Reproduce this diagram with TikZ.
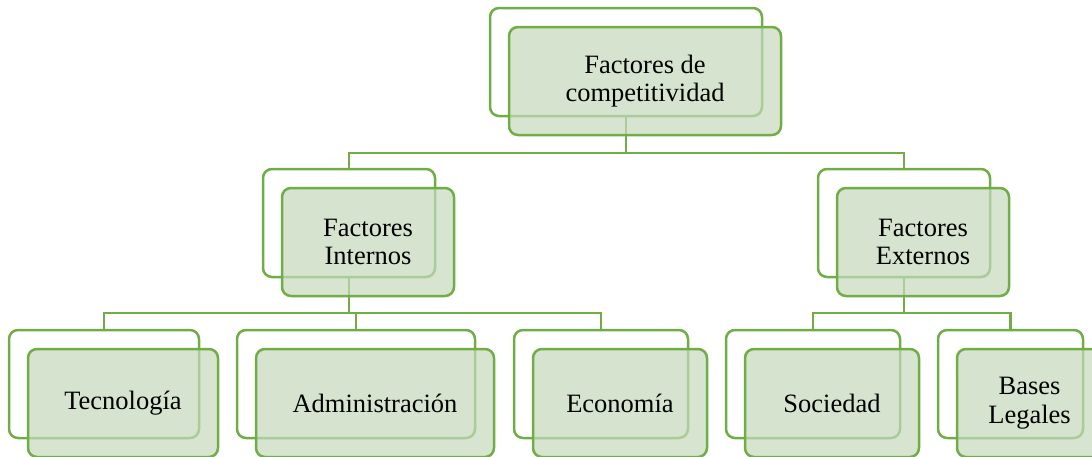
\documentclass[tikz,border=0pt]{standalone}
\usepackage{fontspec}
\setmainfont{LiberationSerif}[Extension=.ttf,UprightFont=*-Regular,BoldFont=*-Bold]
\definecolor{verde}{RGB}{112,173,71}
\definecolor{verdeclaro}{RGB}{197,217,188}
\tikzset{
  caja/.style={draw=verde,line width=2.5pt,rounded corners=9pt,outer sep=0pt,
    anchor=north west,minimum height=108pt,inner sep=0pt},
  cajaatras/.style={caja,fill=white},
  cajafrente/.style={caja,fill=verdeclaro,fill opacity=.7,text opacity=1,
    align=center,font=\rmfamily\fontsize{26.5}{28.5}\selectfont},
  conn/.style={draw=verde,line width=2.5pt}
}
% nombre/x/y/ancho/texto
\def\cajas{top/490/8/272/{Factores de\\competitividad},
  int/263/169/172/{Factores\\Internos},
  ext/818/169/172/{Factores\\Externos},
  tec/9/330/190/{Tecnología},
  adm/237/330/238/{Administración},
  eco/514/330/174/{Economía},
  soc/726/330/174/{Sociedad},
  bas/938/330/145/{Bases\\Legales}}
\begin{document}
\begin{tikzpicture}[x=1pt,y=-1pt]
    \useasboundingbox (0,0) rectangle (1092,456);
    \clip (0,0) rectangle (1092,456);
    \foreach \nm/\xx/\yy/\ww/\txt in \cajas {
        \node[cajaatras,minimum width=\ww pt] (\nm-b) at (\xx,\yy) {};
    }
    \coordinate (bus1) at (0,153);
    \coordinate (bus2) at (0,313);
    \draw[conn] (top-b.south) -- (top-b.south |- bus1);
    \draw[conn] (int-b.north) |- (ext-b.north |- bus1) -- (ext-b.north);
    \draw[conn] (int-b.south) -- (int-b.south |- bus2);
    \draw[conn] (tec-b.north) |- (eco-b.north |- bus2) -- (eco-b.north);
    \draw[conn] (adm-b.north) -- (adm-b.north |- bus2);
    \draw[conn] (ext-b.south) -- (ext-b.south |- bus2);
    \draw[conn] (soc-b.north) |- (bas-b.north |- bus2) -- (bas-b.north);
    \foreach \nm/\xx/\yy/\ww/\txt in \cajas {
        \node[cajafrente,minimum width=\ww pt] (\nm) at (\xx+19,\yy+19) {\txt};
    }
\end{tikzpicture}
\end{document}
